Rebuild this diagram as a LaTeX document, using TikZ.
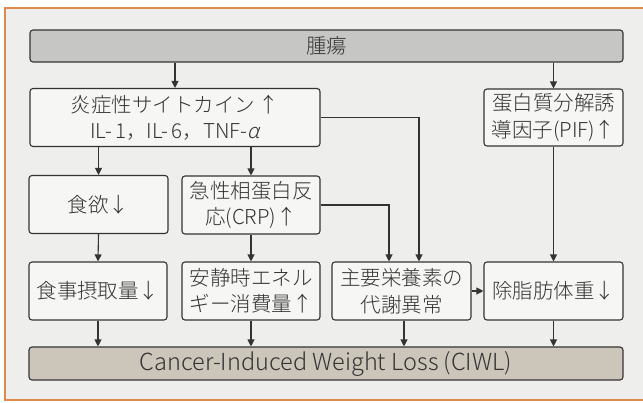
\documentclass[tikz,border=0pt]{standalone}
\usepackage{fontspec}
\setmainfont{Noto Sans CJK JP Light}
\newfontfamily\jpslant[FakeSlant=0.2]{Noto Sans CJK JP Light}
\usetikzlibrary{arrows.meta}
\definecolor{paper}{HTML}{EEEEEC}
\definecolor{boxfill}{HTML}{F6F6F4}
\definecolor{frameorange}{HTML}{DE8A4E}
\definecolor{ink}{HTML}{333333}
\definecolor{tumorfill}{HTML}{C6C6C4}
\definecolor{ciwlfill}{HTML}{CCC5BA}
\tikzset{
  box/.style={draw=ink, line width=1.1pt, rounded corners=3pt, fill=boxfill,
    text=ink, inner sep=0pt, align=center,
    font=\fontsize{20.5}{26.5}\selectfont},
  conn/.style={draw=ink, line width=1.1pt, -{Triangle[length=7pt,width=7pt]}},
}
\begin{document}
\begin{tikzpicture}[x=1pt,y=-1pt]
\useasboundingbox (0,0) rectangle (643,402);
\fill[white] (0,0) rectangle (643,402);
\fill[paper] (5,8) rectangle (643,400);
\draw[frameorange, line width=2.5pt] (660,8) -- (5,8) -- (5,400) -- (660,400);

\node[box, fill=tumorfill, minimum width=593, minimum height=32] (tumor) at (326.5,46) {腫瘍};
\node[box, minimum width=290, minimum height=58] (cyto) at (175,117.5) {炎症性サイトカイン\,↑\\IL-\,1，IL-\,6，TNF-{\jpslant α}};
\node[box, minimum width=139, minimum height=57] (pif) at (553.5,117.5) {蛋白質分解誘\\導因子(PIF)↑};
\node[box, minimum width=139, minimum height=58] (appetite) at (98.5,204.5) {食欲↓};
\node[box, minimum width=138, minimum height=58] (crp) at (251,205) {急性相蛋白反\\応(CRP)↑};
\node[box, minimum width=138, minimum height=58] (intake) at (98,291) {食事摂取量↓};
\node[box, minimum width=138, minimum height=58] (ree) at (251,291) {安静時エネル\\ギー消費量↑};
\node[box, minimum width=139, minimum height=58] (meta) at (401.5,291) {主要栄養素の\\代謝異常};
\node[box, minimum width=139, minimum height=58] (lbm) at (553.5,291) {除脂肪体重↓};
\node[box, fill=ciwlfill, minimum width=594, minimum height=33, font=\fontsize{23.5}{26}\selectfont] (ciwl) at (326,363.5) {Cancer-Induced Weight Loss (CIWL)};

\draw[conn] (tumor.south -| cyto) -- (cyto.north);
\draw[conn] (tumor.south -| pif) -- (pif.north);
\draw[conn] (cyto.south -| appetite) -- (appetite.north);
\draw[conn] (cyto.south -| crp) -- (crp.north);
\draw[conn] (appetite.south) -- (intake.north);
\draw[conn] (crp.south) -- (ree.north);
\draw[conn] (crp.east) -| ([xshift=-12.5pt]meta.north);
\draw[conn] (cyto.east) -| ([xshift=17.5pt]meta.north);
\draw[conn] (pif.south) -- (lbm.north);
\draw[conn] (meta.east) -- (lbm.west);
\draw[conn] (intake.south) -- (intake.south |- ciwl.north);
\draw[conn] (ree.south) -- (ree.south |- ciwl.north);
\draw[conn] ([xshift=2.5pt]meta.south) -- ([xshift=2.5pt]meta.south |- ciwl.north);
\draw[conn] (lbm.south) -- (lbm.south |- ciwl.north);
\end{tikzpicture}
\end{document}
